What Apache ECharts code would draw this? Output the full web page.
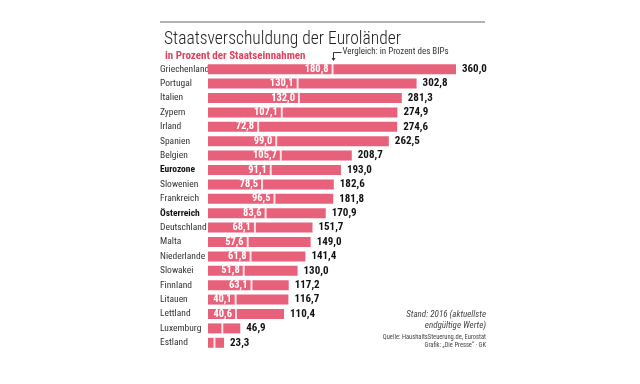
<!DOCTYPE html>
<html>
<head>
<meta charset="utf-8">
<script src="https://cdn.jsdelivr.net/npm/echarts@6/dist/echarts.min.js"></script>
<style>html,body{margin:0;padding:0;background:#fff}#c{width:640px;height:384px}</style>
</head>
<body>
<div id="c"></div>
<script>
const categories = ['Griechenland','Portugal','Italien','Zypern','Irland','Spanien','Belgien','Eurozone','Slowenien','Frankreich','Österreich','Deutschland','Malta','Niederlande','Slowakei','Finnland','Litauen','Lettland','Luxemburg','Estland'];
const bipValues = [180.8,130.1,132.0,107.1,72.8,99.0,105.7,91.1,78.5,96.5,83.6,68.1,57.6,61.8,51.8,63.1,40.1,40.6,20.8,9.4];
const revenueValues = [360.0,302.8,281.3,274.9,274.6,262.5,208.7,193.0,182.6,181.8,170.9,151.7,149.0,141.4,130.0,117.2,116.7,110.4,46.9,23.3];
const boldCategories = ['Eurozone','Österreich'];

const FONT = '"Roboto Condensed","Liberation Sans Narrow",sans-serif';
const RED = '#e8617a';
const fmt = v => v.toFixed(1).replace('.', ',');

const chart = echarts.init(document.getElementById('c'));
const option = {
  animation: false,
  backgroundColor: '#fff',
  textStyle: { fontFamily: FONT },
  title: [
    { text: 'Staatsverschuldung der Euroländer', left: 159, top: 26,
      textStyle: { fontFamily: FONT, fontSize: 17.5, fontWeight: 300, color: '#222' } },
    { text: 'in Prozent der Staatseinnahmen', left: 160, top: 45.5,
      textStyle: { fontFamily: FONT, fontSize: 11, fontWeight: 'bold', color: '#e0435e' } }
  ],
  grid: { left: 208, right: 184, top: 62, height: 288, containLabel: false },
  xAxis: { type: 'value', min: 0, max: 360, show: false },
  yAxis: {
    type: 'category', data: categories, inverse: true,
    axisLine: { show: false }, axisTick: { show: false },
    axisLabel: {
      align: 'left', margin: 48, width: 90, overflow: 'none',
      fontFamily: FONT, fontSize: 9.5, color: '#333',
      formatter: v => boldCategories.includes(v) ? '{b|' + v + '}' : v,
      rich: { b: { fontFamily: FONT, fontSize: 9.5, fontWeight: 'bold', color: '#111' } }
    }
  },
  series: [
    {
      type: 'bar', stack: 'a', barWidth: 10, data: bipValues,
      itemStyle: { color: RED },
      label: {
        show: true, position: 'insideRight', distance: 4,
        fontFamily: FONT, fontSize: 10.5, fontWeight: 'bold', color: '#fff',
        formatter: p => p.value >= 30 ? fmt(p.value) : ''
      }
    },
    {
      type: 'bar', stack: 'a', barWidth: 10,
      data: revenueValues.map((v, i) => +(v - bipValues[i]).toFixed(1)),
      itemStyle: { color: RED },
      label: {
        show: true, position: 'right', distance: 6,
        fontFamily: FONT, fontSize: 11, fontWeight: 'bold', color: '#111',
        formatter: p => fmt(revenueValues[p.dataIndex])
      }
    },
    {
      type: 'scatter', symbol: 'rect', symbolSize: [2, 11], z: 5,
      data: bipValues.map((v, i) => [v, categories[i]]),
      itemStyle: { color: '#fff' }, silent: true
    }
  ]
};
chart.setOption(option);

const p = chart.convertToPixel({ gridIndex: 0 }, [bipValues[0], categories[0]]);
const ax = Math.round(p[0]) + 0.5;
chart.setOption({
  graphic: [
    { type: 'line', shape: { x1: 160, y1: 22, x2: 485, y2: 22 }, style: { stroke: '#999', lineWidth: 1.5 } },
    { type: 'polyline', shape: { points: [[ax, 59], [ax, 52.5], [ax + 8, 52.5]] }, style: { stroke: '#333', lineWidth: 1, fill: null } },
    { type: 'polygon', shape: { points: [[ax - 2, 58], [ax + 2, 58], [ax, 61]] }, style: { fill: '#333' } },
    { type: 'text', left: ax + 9, top: 47.5, style: { text: 'Vergleich: in Prozent des BIPs', font: '9px ' + FONT, fill: '#333' } },
    { type: 'text', right: 154, top: 309, style: { text: 'Stand: 2016 (aktuellste\nendgültige Werte)', font: 'italic 9px ' + FONT, fill: '#444', textAlign: 'right', lineHeight: 11 } },
    { type: 'text', right: 154, top: 333, style: { text: 'Quelle: HaushaltsSteuerung.de, Eurostat\nGrafik: „Die Presse“ · GK', font: '6.5px ' + FONT, fill: '#444', textAlign: 'right', lineHeight: 8 } }
  ]
});
</script>
</body>
</html>
